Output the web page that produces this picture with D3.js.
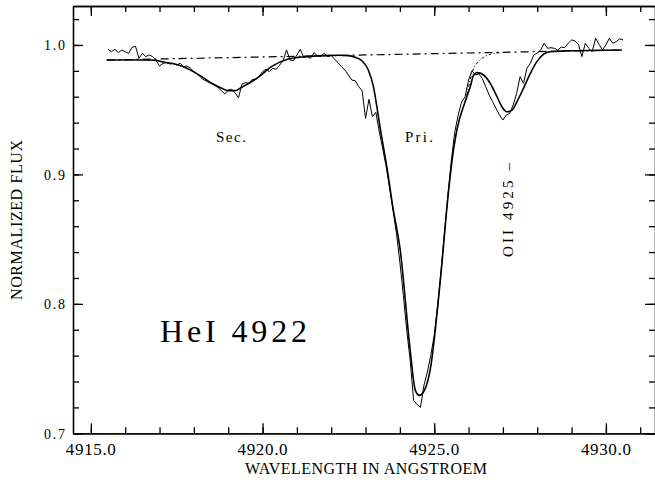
<!DOCTYPE html>
<html>
<head>
<meta charset="utf-8">
<script src="https://cdn.jsdelivr.net/npm/d3@7"></script>
<style>
  body { margin: 0; background: #fff; }
  svg text { font-family: "Liberation Serif", serif; fill: #000; }
</style>
</head>
<body>
<div id="chart"></div>
<script>
// observed spectrum, one value every 0.1 A starting at 4915.5
var obsStart = 4915.5, obsStep = 0.1;
var obsFlux = [
  0.9966, 0.9948, 0.9966, 0.9941, 0.9961, 0.9948, 0.9935, 0.9982, 0.9990, 0.9897,
  0.9936, 0.9910, 0.9923, 0.9910, 0.9879, 0.9838, 0.9858, 0.9863, 0.9853, 0.9858,
  0.9845, 0.9858, 0.9832, 0.9838, 0.9820, 0.9794, 0.9776, 0.9750, 0.9729, 0.9716,
  0.9703, 0.9690, 0.9672, 0.9647, 0.9621, 0.9652, 0.9657, 0.9631, 0.9592, 0.9698,
  0.9709, 0.9703, 0.9734, 0.9734, 0.9755, 0.9794, 0.9812, 0.9794, 0.9820, 0.9812,
  0.9845, 0.9879, 0.9961, 0.9884, 0.9879, 0.9923, 0.9966, 0.9905, 0.9910, 0.9897,
  0.9941, 0.9915, 0.9910, 0.9936, 0.9910, 0.9920, 0.9889, 0.9863, 0.9832, 0.9807,
  0.9768, 0.9729, 0.9724, 0.9678, 0.9647, 0.9433, 0.9580, 0.9446, 0.9480, 0.9330,
  0.9200, 0.9060, 0.8894, 0.8724, 0.8546, 0.8322, 0.8066, 0.7796, 0.7564, 0.7254,
  0.7223, 0.7200, 0.7370, 0.7471, 0.7602, 0.7757, 0.7989, 0.8260, 0.8554, 0.8840,
  0.9111, 0.9330, 0.9459, 0.9562, 0.9600, 0.9729, 0.9801, 0.9768, 0.9776, 0.9742,
  0.9678, 0.9613, 0.9562, 0.9510, 0.9459, 0.9420, 0.9459, 0.9472, 0.9536, 0.9626,
  0.9755, 0.9704, 0.9820, 0.9858, 0.9923, 0.9936, 0.9961, 1.0013, 0.9974, 0.9979,
  0.9974, 0.9961, 0.9984, 0.9979, 1.0013, 1.0039, 1.0030, 1.0005, 0.9910, 1.0013,
  0.9974, 0.9948, 1.0052, 1.0005, 0.9961, 1.0000, 1.0052, 1.0013, 1.0026, 1.0047,
  1.0039
];

// fitted profile (Sec. + Pri. + OII)
var fitWave = [4915.46, 4916.0, 4916.5, 4916.87, 4917.06, 4917.35, 4917.64, 4917.93, 4918.23, 4918.52,
  4918.81, 4919.0, 4919.2, 4919.39, 4919.68, 4919.93, 4920.27, 4920.75, 4921.24, 4921.72,
  4922.2, 4922.5, 4922.7, 4922.89, 4923.08, 4923.23, 4923.33, 4923.42, 4923.52, 4923.62,
  4923.8, 4924.01, 4924.3, 4924.45, 4924.57, 4924.74, 4924.88, 4925.17, 4925.42, 4925.56,
  4925.66, 4925.9, 4926.05, 4926.15, 4926.25, 4926.44, 4926.63, 4926.83, 4926.97, 4927.12,
  4927.27, 4927.41, 4927.6, 4927.8, 4927.99, 4928.19, 4928.38, 4929.0, 4930.47];
var fitFlux = [0.9884, 0.9884, 0.9884, 0.9882, 0.9871, 0.9858, 0.9838, 0.9802, 0.9755, 0.9704,
  0.9665, 0.9647, 0.9647, 0.9673, 0.9716, 0.9762, 0.9835, 0.9892, 0.9910, 0.9918,
  0.9920, 0.9918, 0.9905, 0.9879, 0.9807, 0.9678, 0.9523, 0.9368, 0.9213, 0.9059,
  0.8740, 0.8415, 0.7641, 0.7332, 0.7293, 0.7347, 0.7486, 0.8159, 0.8879, 0.9188,
  0.9343, 0.9562, 0.9678, 0.9768, 0.9786, 0.9768, 0.9704, 0.9600, 0.9523, 0.9484,
  0.9497, 0.9562, 0.9665, 0.9781, 0.9871, 0.9930, 0.9948, 0.9955, 0.9961];

// HeI wing without the OII line
var heWave = [4925.95, 4926.15, 4926.29, 4926.44, 4926.63, 4926.9];
var heFlux = [0.9615, 0.9820, 0.9871, 0.9905, 0.9928, 0.9940];

// continuum
var contWave = [4915.46, 4930.47];
var contFlux = [0.9884, 0.9961];

var xMajor = [4915, 4920, 4925, 4930];
var yMajor = [0.7, 0.8, 0.9, 1.0];
var xMinor = d3.range(4915, 4932, 1);
var yMinor = d3.range(0.70, 1.029, 0.02);

var W = 655, H = 483;
var padL = 73, padR = 655, padT = 6, padB = 433.3;

var x = d3.scaleLinear().domain([4914.48, 4931.43]).range([padL, padR]);
var y = d3.scaleLinear().domain([0.7, 1.0301]).range([padB, padT]);

var svg = d3.select("#chart").append("svg")
    .attr("width", W).attr("height", H);

// axes on all four sides, ticks pointing inward
function frame(axis, tx, ty, vals, size) {
  var g = svg.append("g")
      .attr("transform", "translate(" + tx + "," + ty + ")")
      .call(axis.tickValues(vals).tickSize(-size).tickSizeOuter(0).tickFormat(""));
  g.selectAll("path, line").attr("stroke", "#000").attr("stroke-width", 1.3);
  g.selectAll("text").remove();
  return g;
}
frame(d3.axisBottom(x), 0, padB, xMinor, 6);
frame(d3.axisBottom(x), 0, padB, xMajor, 10);
frame(d3.axisTop(x), 0, padT, xMinor, 6);
frame(d3.axisTop(x), 0, padT, xMajor, 10);
frame(d3.axisLeft(y), padL, 0, yMinor, 6);
frame(d3.axisLeft(y), padL, 0, yMajor, 10);
frame(d3.axisRight(y), padR, 0, yMinor, 6);
frame(d3.axisRight(y), padR, 0, yMajor, 10);

// tick labels
svg.selectAll(".xl").data(xMajor).enter().append("text")
    .attr("x", function (d) { return x(d); })
    .attr("y", 455)
    .attr("text-anchor", "middle")
    .attr("font-size", 17)
    .attr("textLength", 50)
    .text(function (d) { return d.toFixed(1); });

svg.selectAll(".yl").data(yMajor).enter().append("text")
    .attr("x", 65)
    .attr("y", function (d) { return y(d) + 5.5; })
    .attr("text-anchor", "end")
    .attr("font-size", 14)
    .attr("textLength", 21)
    .text(function (d) { return d.toFixed(1); });

svg.append("text")
    .attr("x", 366).attr("y", 474)
    .attr("text-anchor", "middle")
    .attr("font-size", 16)
    .attr("textLength", 242)
    .text("WAVELENGTH  IN  ANGSTROEM");

svg.append("text")
    .attr("transform", "translate(22,220) rotate(-90)")
    .attr("text-anchor", "middle")
    .attr("font-size", 16)
    .attr("textLength", 160)
    .text("NORMALIZED  FLUX");

// curves
var line = d3.line()
    .x(function (d) { return x(d[0]); })
    .y(function (d) { return y(d[1]); });

var obs = obsFlux.map(function (f, i) { return [obsStart + i * obsStep, f]; });
var fit = fitWave.map(function (w, i) { return [w, fitFlux[i]]; });
var he = heWave.map(function (w, i) { return [w, heFlux[i]]; });
var cont = contWave.map(function (w, i) { return [w, contFlux[i]]; });

svg.append("path").datum(cont)
    .attr("d", line)
    .attr("fill", "none").attr("stroke", "#000").attr("stroke-width", 1.2)
    .attr("stroke-dasharray", "8,4,2,4");

svg.append("path").datum(he)
    .attr("d", line.curve(d3.curveMonotoneX))
    .attr("fill", "none").attr("stroke", "#000").attr("stroke-width", 1)
    .attr("stroke-dasharray", "3,2,1,2");

svg.append("path").datum(fit)
    .attr("d", line.curve(d3.curveMonotoneX))
    .attr("fill", "none").attr("stroke", "#000").attr("stroke-width", 1.6);

svg.append("path").datum(obs)
    .attr("d", line.curve(d3.curveLinear))
    .attr("fill", "none").attr("stroke", "#000").attr("stroke-width", 1);

// annotations
svg.append("text").attr("x", 216).attr("y", 141.7)
    .attr("font-size", 15).attr("textLength", 30).text("Sec.");
svg.append("text").attr("x", 405).attr("y", 141.7)
    .attr("font-size", 15).attr("textLength", 28).text("Pri.");
svg.append("text")
    .attr("transform", "translate(513,257) rotate(-90)")
    .attr("font-size", 15)
    .attr("textLength", 94)
    .text("OII  4925  \u2013");
svg.append("text").attr("x", 160).attr("y", 341.7)
    .attr("font-size", 32).attr("textLength", 147)
    .text("HeI  4922");
</script>
</body>
</html>
